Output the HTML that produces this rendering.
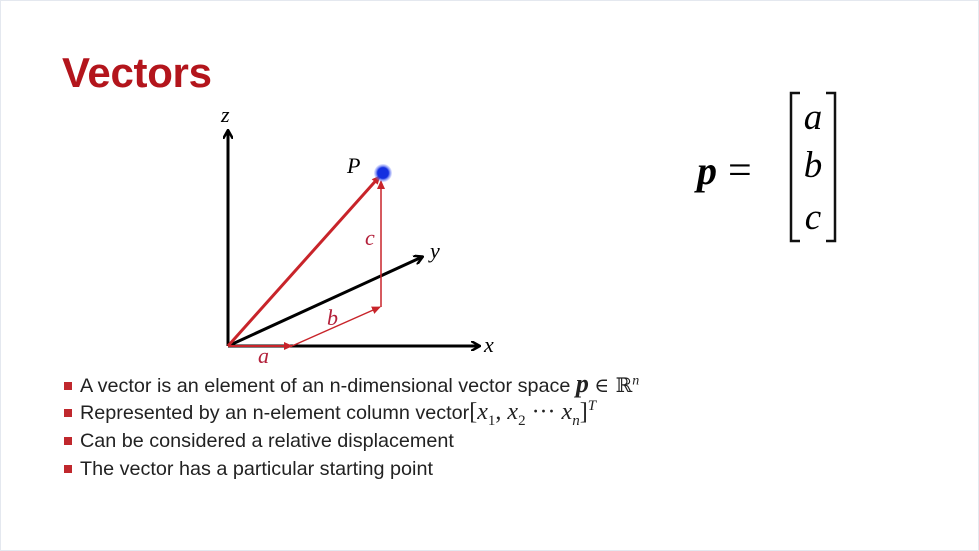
<!DOCTYPE html>
<html><head><meta charset="utf-8"><style>
body{margin:0;width:979px;height:551px;background:#fff;overflow:hidden;font-family:"Liberation Sans",sans-serif}
.frame{position:absolute;left:0;top:0;width:977px;height:549px;border:1px solid #e4e8ef}
.title{position:absolute;left:62px;top:49px;font-size:42px;font-weight:bold;color:#b3151c;letter-spacing:-0.3px}
.b{position:absolute;left:64px;font-size:19.8px;color:#222}
.b::before{content:"";position:absolute;left:0;top:7px;width:8px;height:8px;background:#c0282d}
.b span.t{position:absolute;left:16px;white-space:nowrap;line-height:22px}
.m{font-family:"Liberation Serif",serif;font-style:italic}
sub,sup{line-height:0}
.b span.t span{line-height:0}
</style></head><body>
<div class="frame"></div>
<div class="title">Vectors</div>
<svg width="979" height="551" style="position:absolute;left:0;top:0">
<defs>
<marker id="ak" markerWidth="10" markerHeight="10" refX="8" refY="5" orient="auto" markerUnits="userSpaceOnUse"><path d="M0,0 L9,5 L0,10" fill="none" stroke="#000" stroke-width="2.5"/></marker>
<marker id="ar" markerWidth="10" markerHeight="10" refX="8" refY="5" orient="auto" markerUnits="userSpaceOnUse"><path d="M0,1 L9,5 L0,9z" fill="#c8242a"/></marker>
<radialGradient id="g"><stop offset="0.6" stop-color="#1530e0"/><stop offset="1" stop-color="#8090ff" stop-opacity="0.2"/></radialGradient>
</defs>
<g>
<line x1="228" y1="346" x2="228" y2="131" stroke="#000" stroke-width="3" marker-end="url(#ak)"/>
<line x1="228" y1="346" x2="479" y2="346" stroke="#000" stroke-width="3" marker-end="url(#ak)"/>
<line x1="228" y1="346" x2="422" y2="257" stroke="#000" stroke-width="3" marker-end="url(#ak)"/>
</g>
<g stroke="#c8242a">
<line x1="228" y1="346" x2="380" y2="176" stroke-width="3" marker-end="url(#ar)"/>
<line x1="228" y1="346" x2="292" y2="346" stroke-width="2" marker-end="url(#ar)"/>
<line x1="292" y1="346" x2="380" y2="307" stroke-width="1.5" marker-end="url(#ar)"/>
<line x1="381" y1="307" x2="381" y2="181" stroke-width="1.5" marker-end="url(#ar)"/>
</g>
<circle cx="383" cy="173" r="9" fill="url(#g)"/>
<g font-family="Liberation Serif,serif" font-style="italic" font-size="22">
<text x="221" y="122">z</text>
<text x="484" y="352">x</text>
<text x="430" y="258">y</text>
<text x="347" y="173">P</text>
<text x="258" y="363" fill="#b3203a">a</text>
<text x="327" y="325" fill="#b3203a">b</text>
<text x="365" y="245" fill="#b3203a">c</text>
</g>
<g>
<text x="697" y="184" font-family="Liberation Serif,serif" font-style="italic" font-weight="bold" font-size="40">p</text>
<text x="728" y="184" font-family="Liberation Serif,serif" font-size="42">=</text>
<path d="M800,93 H791 V241 H800" fill="none" stroke="#111" stroke-width="2.5"/>
<path d="M826,93 H835 V241 H826" fill="none" stroke="#111" stroke-width="2.5"/>
<g font-family="Liberation Serif,serif" font-style="italic" font-size="37" text-anchor="middle">
<text x="813" y="129">a</text><text x="813" y="177">b</text><text x="813" y="229">c</text>
</g></g>
</svg>
<div class="b" style="top:375px"><span class="t">A vector is an element of an n-dimensional vector space <span class="m" style="font-weight:bold;font-size:26px;font-style:italic">p</span> <span style="font-family:'DejaVu Serif',serif;font-size:20px">∈ ℝ<sup class="m" style="font-size:14px">n</sup></span></span></div>
<div class="b" style="top:402px"><span class="t">Represented by an n-element column vector<span style="font-family:'Liberation Serif',serif;font-size:24px">[<i>x</i><sub style="font-size:15px">1</sub>, <i>x</i><sub style="font-size:15px">2</sub> ··· <i>x<sub style="font-size:15px">n</sub></i>]<sup class="m" style="font-size:15px">T</sup></span></span></div>
<div class="b" style="top:430px"><span class="t">Can be considered a relative displacement</span></div>
<div class="b" style="top:458px"><span class="t">The vector has a particular starting point</span></div>
</body></html>
